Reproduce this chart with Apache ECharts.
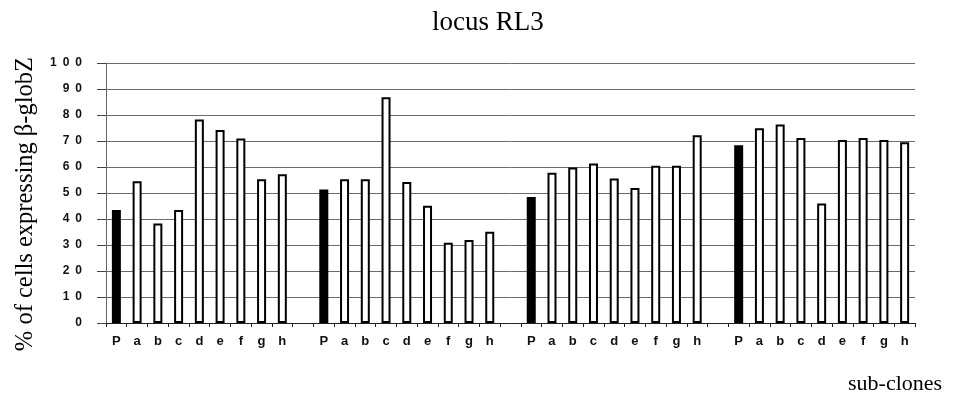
<!DOCTYPE html>
<html lang="en">
<head>
    <meta charset="UTF-8">
    <title>locus RL3</title>
    <script src="https://cdn.jsdelivr.net/npm/echarts@6/dist/echarts.min.js"></script>
    <style>
        html, body { margin: 0; padding: 0; background: #fff; }
    </style>
</head>
<body>

<div id="main" style="width:958px;height:399px"></div>
<script type="text/javascript">

    // sub-clone labels, repeated for each of the four parental clones
    var clones = ['P', 'a', 'b', 'c', 'd', 'e', 'f', 'g', 'h'];

    // % of cells expressing beta-globZ, one array per group
    var group1 = [43.5, 54.5, 38.3, 43.5, 78.3, 74.2, 71, 55.3, 57.2];
    var group2 = [51.3, 55.3, 55.3, 86.8, 54.2, 45.1, 30.9, 31.9, 35.1];
    var group3 = [48.5, 57.8, 59.8, 61.3, 55.6, 51.9, 60.5, 60.5, 72.2];
    var group4 = [68.4, 74.9, 76.3, 71.2, 46, 70.4, 71.2, 70.4, 69.5];

    var yTicks = [0, 10, 20, 30, 40, 50, 60, 70, 80, 90, 100];

    var groups = [group1, group2, group3, group4];
    var categories = [];
    var values = [];
    groups.forEach(function (g, gi) {
        if (gi > 0) {
            categories.push('');
            values.push('-');
        }
        g.forEach(function (v, i) {
            categories.push(clones[i]);
            values.push({
                value: v,
                itemStyle: { color: i === 0 ? '#000' : '#fff' }
            });
        });
    });

    var serif = '"Liberation Serif", "Times New Roman", serif';
    var sans = '"Liberation Sans", Arial, sans-serif';

    var myChart = echarts.init(document.getElementById('main'));
    var option = {
        animation: false,
        backgroundColor: '#fff',
        title: {
            text: 'locus RL3',
            left: 427,
            top: 4,
            textStyle: { fontFamily: serif, fontSize: 27, fontWeight: 'normal', color: '#000' }
        },
        grid: { left: 106, right: 43, top: 63, bottom: 76 },
        xAxis: {
            type: 'category',
            data: categories,
            axisLine: { lineStyle: { color: '#222', width: 1 } },
            axisTick: { show: true, length: 4, lineStyle: { color: '#222' } },
            axisLabel: {
                interval: 0,
                margin: 12,
                fontFamily: sans,
                fontSize: 13,
                fontWeight: 'bold',
                color: '#111'
            }
        },
        yAxis: {
            type: 'value',
            min: yTicks[0],
            max: yTicks[yTicks.length - 1],
            interval: 10,
            axisLine: { show: true, lineStyle: { color: '#666', width: 1 } },
            axisTick: { show: true, length: 9, lineStyle: { color: '#444' } },
            splitLine: { lineStyle: { color: '#6a6a6a', width: 1 } },
            axisLabel: {
                margin: 24,
                fontFamily: sans,
                fontSize: 12,
                fontWeight: 'bold',
                color: '#111',
                formatter: function (v) { return String(v).split('').join('\u2002'); }
            }
        },
        graphic: [
            {
                type: 'text',
                left: 13,
                top: 57,
                rotation: Math.PI / 2,
                style: {
                    text: '% of cells expressing \u03b2-globZ',
                    font: '24.5px ' + serif,
                    fill: '#000'
                }
            },
            {
                type: 'text',
                left: 848,
                top: 373,
                style: {
                    text: 'sub-clones',
                    font: '22px ' + serif,
                    fill: '#000'
                }
            }
        ],
        series: [
            {
                type: 'bar',
                data: values,
                barWidth: 9,
                itemStyle: { borderColor: '#000', borderWidth: 2 }
            }
        ]
    };
    myChart.setOption(option);

</script>

</body>
</html>
